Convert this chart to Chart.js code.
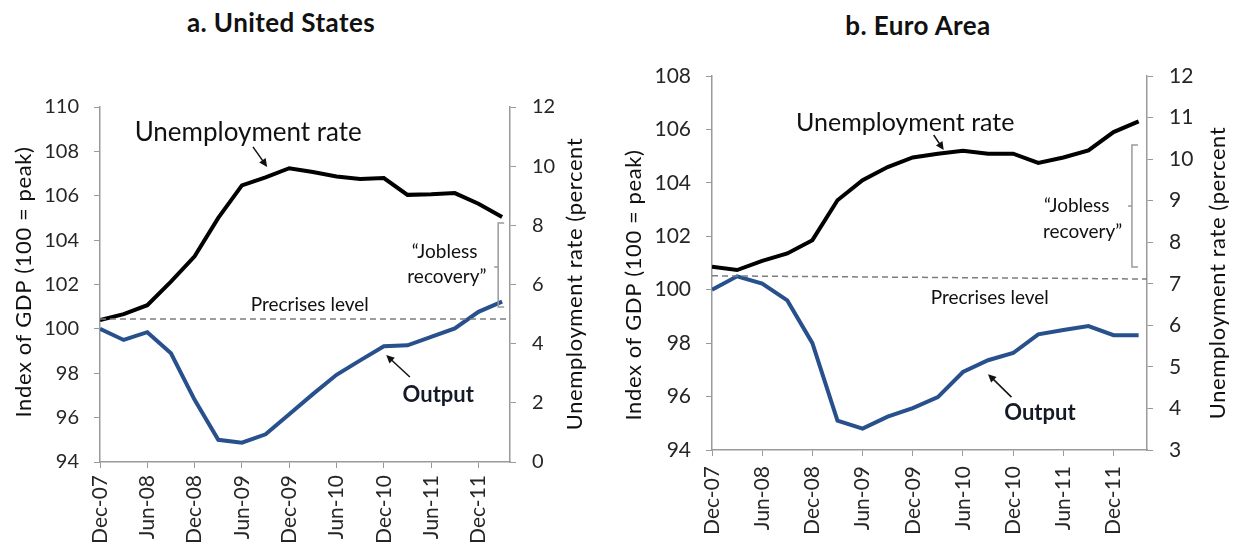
<!DOCTYPE html>
<html>
<head>
<meta charset="utf-8">
<script src="https://cdn.jsdelivr.net/npm/chart.js@4.4.1/dist/chart.umd.min.js"></script>
<style>
  body { margin: 0; background: #fff; width: 1238px; height: 546px; position: relative; overflow: hidden; }
  .panel { position: absolute; top: 0; }
  .ttl { position: absolute; font: bold 26px Lato, sans-serif; letter-spacing: 0.4px; color: #111; text-align: center; }
</style>
</head>
<body>
<div class="ttl" style="left:161px;top:6px;width:240px;">a. United States</div>
<div class="ttl" style="left:798px;top:9px;width:240px;">b. Euro Area</div>
<canvas id="us" class="panel" style="left:0" width="620" height="546"></canvas>
<canvas id="ea" class="panel" style="left:620px" width="618" height="546"></canvas>
<script>
// ---- data (months after Dec-07, quarterly) ----
const months = [0, 3, 6, 9, 12, 15, 18, 21, 24, 27, 30, 33, 36, 39, 42, 45, 48, 51];
const tickLabels = ['Dec-07','Jun-08','Dec-08','Jun-09','Dec-09','Jun-10','Dec-10','Jun-11','Dec-11'];

const usOutput = [100.0, 99.5, 99.85, 98.9, 96.8, 95.0, 94.87, 95.25, 96.15, 97.06, 97.93, 98.58, 99.22, 99.26, 99.64, 100.02, 100.77, 101.23];
const usUnemp  = [4.8, 5.0, 5.3, 6.1, 6.95, 8.25, 9.35, 9.62, 9.93, 9.8, 9.65, 9.57, 9.6, 9.03, 9.05, 9.09, 8.73, 8.28];
const usPrecrisis = [100.45, 100.45];

const euOutput = [100.0, 100.5, 100.23, 99.6, 98.0, 95.1, 94.8, 95.25, 95.57, 95.98, 96.92, 97.36, 97.63, 98.33, 98.49, 98.64, 98.3, 98.3];
const euUnemp  = [7.41, 7.33, 7.55, 7.73, 8.05, 9.01, 9.49, 9.81, 10.04, 10.13, 10.2, 10.13, 10.13, 9.91, 10.04, 10.21, 10.65, 10.91];
const euPrecrisis = [100.52, 100.4];

const precrisisMonths = [0, 52];

// ---- helpers ----
const pts = (xs, ys) => xs.map((m, i) => ({ x: m, y: ys[i] }));
const AXIS = '#9a9a9a';
const TXT = '#262626';

function arrow(ctx, x1, y1, x2, y2) {
  const a = Math.atan2(y2 - y1, x2 - x1), h = 9;
  ctx.beginPath(); ctx.moveTo(x1, y1); ctx.lineTo(x2 - 5 * Math.cos(a), y2 - 5 * Math.sin(a)); ctx.stroke();
  ctx.beginPath();
  ctx.moveTo(x2, y2);
  ctx.lineTo(x2 - h * Math.cos(a - 0.45), y2 - h * Math.sin(a - 0.45));
  ctx.lineTo(x2 - h * Math.cos(a + 0.45), y2 - h * Math.sin(a + 0.45));
  ctx.closePath(); ctx.fill();
}

// annotations: texts, arrows, bracket, axis titles
const notesPlugin = {
  id: 'notes',
  afterDatasetsDraw(chart, args, o) {
    const { ctx } = chart;
    const x = chart.scales.x, y = chart.scales.y;
    const px = m => x.getPixelForValue(m), py = v => y.getPixelForValue(v);
    ctx.save();
    ctx.textAlign = 'center'; ctx.textBaseline = 'middle';
    o.texts.forEach(t => {
      ctx.font = t.font; ctx.fillStyle = t.color || '#111';
      ctx.fillText(t.text, px(t.m), py(t.v));
    });
    ctx.strokeStyle = '#111'; ctx.fillStyle = '#111'; ctx.lineWidth = 1.5;
    o.arrows.forEach(a => arrow(ctx, px(a.m1), py(a.v1), px(a.m2), py(a.v2)));
    // jobless recovery bracket
    const b = o.bracket, bx = px(b.m);
    ctx.strokeStyle = AXIS; ctx.lineWidth = 1.5;
    ctx.beginPath();
    ctx.moveTo(bx + 6, py(b.top)); ctx.lineTo(bx, py(b.top)); ctx.lineTo(bx, py(b.bottom)); ctx.lineTo(bx + 6, py(b.bottom));
    ctx.moveTo(bx, py(b.mid)); ctx.lineTo(bx - 4, py(b.mid));
    ctx.stroke();
    // rotated axis titles
    ctx.font = '22px Lato, sans-serif'; ctx.fillStyle = '#111';
    ctx.letterSpacing = '0.6px';
    o.axisTitles.forEach(t => {
      ctx.save(); ctx.translate(t.x, t.y); ctx.rotate(-Math.PI / 2);
      ctx.fillText(t.text, 0, 0); ctx.restore();
    });
    ctx.restore();
  }
};

function makeChart(id, cfg) {
  const tickFont = { family: 'Lato', size: cfg.tickSize };
  const gridOpts = { display: true, drawOnChartArea: false, drawTicks: true, tickLength: 6, color: AXIS };
  return new Chart(document.getElementById(id), {
    type: 'line',
    data: {
      datasets: [
        { data: pts(precrisisMonths, cfg.precrisis), yAxisID: 'y', borderColor: '#7d7d7d', borderWidth: 1.5, borderDash: [6, 4], pointRadius: 0 },
        { data: pts(months, cfg.unemp), yAxisID: 'y1', borderColor: '#000', borderWidth: 4, pointRadius: 0, tension: 0 },
        { data: pts(months, cfg.output), yAxisID: 'y', borderColor: '#28508c', borderWidth: 4, pointRadius: 0, tension: 0 }
      ]
    },
    options: {
      responsive: false,
      animation: false,
      layout: { padding: { top: cfg.top, bottom: 0, left: 0, right: 0 } },
      plugins: { legend: { display: false }, tooltip: { enabled: false }, notes: cfg.notes },
      scales: {
        x: {
          type: 'linear', min: 0, max: 52,
          grid: gridOpts, border: { color: AXIS, width: 1.5 },
          ticks: {
            stepSize: 6, includeBounds: false, autoSkip: false, maxRotation: 90, minRotation: 90,
            padding: cfg.xPad, color: TXT, font: { family: 'Lato', size: cfg.xSize },
            callback: v => tickLabels[v / 6] || ''
          },
          afterFit: s => { s.height = cfg.xHeight; }
        },
        y: {
          position: 'left', min: cfg.yMin, max: cfg.yMax,
          grid: gridOpts, border: { color: AXIS, width: 1.5 },
          ticks: { stepSize: 2, padding: 15, color: TXT, font: tickFont },
          afterFit: s => { s.width = cfg.leftW; }
        },
        y1: {
          position: 'right', min: cfg.rMin, max: 12,
          grid: gridOpts, border: { color: AXIS, width: 1.5 },
          ticks: { stepSize: cfg.rStep, padding: 16, color: TXT, font: tickFont },
          afterFit: s => { s.width = cfg.rightW; }
        }
      }
    },
    plugins: [notesPlugin]
  });
}

makeChart('us', {
  output: usOutput, unemp: usUnemp, precrisis: usPrecrisis,
  yMin: 94, yMax: 110, rMin: 0, rStep: 2,
  top: 107, leftW: 100, rightW: 110, xHeight: 84, xPad: 7, tickSize: 20, xSize: 21,
  notes: {
    texts: [
      { text: 'Unemployment rate', m: 18.8, v: 108.83, font: '26px Lato, sans-serif' },
      { text: 'Precrises level', m: 26.6, v: 101.08, font: '19px Lato, sans-serif' },
      { text: 'Output', m: 42.9, v: 97.02, font: 'bold 22px Lato, sans-serif', color: '#141a26' },
      { text: '\u201cJobless', m: 43.7, v: 103.47, font: '19px Lato, sans-serif' },
      { text: 'recovery\u201d', m: 44.0, v: 102.34, font: '19px Lato, sans-serif' }
    ],
    arrows: [
      { m1: 19.4, v1: 108.2, m2: 21.2, v2: 107.3 },
      { m1: 39.3, v1: 97.83, m2: 36.3, v2: 98.82 }
    ],
    bracket: { m: 50.5, top: 104.77, bottom: 100.99, mid: 102.79 },
    axisTitles: [
      { text: 'Index of GDP (100 = peak)', x: 24, y: 282 },
      { text: 'Unemployment rate (percent', x: 575, y: 284 }
    ]
  }
});

makeChart('ea', {
  output: euOutput, unemp: euUnemp, precrisis: euPrecrisis,
  yMin: 94, yMax: 108, rMin: 3, rStep: 1,
  top: 76, leftW: 92, rightW: 91, xHeight: 96, xPad: 10, tickSize: 21, xSize: 21,
  notes: {
    texts: [
      { text: 'Unemployment rate', m: 23.1, v: 106.24, font: '25px Lato, sans-serif' },
      { text: 'Precrises level', m: 33.2, v: 99.69, font: '19px Lato, sans-serif' },
      { text: 'Output', m: 39.2, v: 95.38, font: 'bold 22px Lato, sans-serif', color: '#141a26' },
      { text: '\u201cJobless', m: 43.6, v: 103.13, font: '19px Lato, sans-serif' },
      { text: 'recovery\u201d', m: 44.3, v: 102.16, font: '19px Lato, sans-serif' }
    ],
    arrows: [
      { m1: 26.5, v1: 105.79, m2: 27.7, v2: 105.23 },
      { m1: 35.8, v1: 95.98, m2: 33.0, v2: 96.84 }
    ],
    bracket: { m: 50.2, top: 105.42, bottom: 100.85, mid: 103.13 },
    axisTitles: [
      { text: 'Index of GDP (100 = peak)', x: 14, y: 285 },
      { text: 'Unemployment rate (percent', x: 598, y: 273 }
    ]
  }
});
</script>
</body>
</html>
